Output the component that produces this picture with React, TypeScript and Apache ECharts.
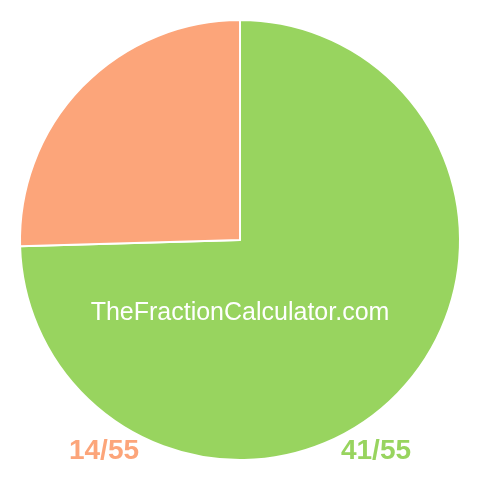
import { useEffect, useRef } from 'react';
import * as echarts from 'echarts';

const sliceNames = ['41/55', '14/55'];
const sliceValues = [41, 14];
const sliceColors = ['#98d45f', '#fca57a'];
const siteName = 'TheFractionCalculator.com';

const App = () => {
  const chartRef = useRef<HTMLDivElement>(null);

  useEffect(() => {
    if (chartRef.current) {
      const myChart = echarts.init(chartRef.current, null, { renderer: 'svg' });

      const option: echarts.EChartsOption = {
        animation: false,
        series: [{
          type: 'pie',
          center: [240, 240],
          radius: [0, 220],
          startAngle: 90,
          clockwise: true,
          z: 1,
          label: { show: false },
          labelLine: { show: false },
          emphasis: { disabled: true },
          itemStyle: { borderColor: '#ffffff', borderWidth: 2 },
          data: sliceValues.map((v, i) => ({
            name: sliceNames[i],
            value: v,
            itemStyle: { color: sliceColors[i] }
          }))
        }],
        graphic: [
          {
            type: 'text', x: 240, y: 311, z: 100,
            style: {
              text: siteName, fill: '#ffffff', font: '25px Arial, "Liberation Sans", sans-serif',
              align: 'center', verticalAlign: 'middle'
            }
          },
          {
            type: 'text', x: 104, y: 449, z: 100,
            style: {
              text: sliceNames[1], fill: sliceColors[1], font: 'bold 28px Arial, "Liberation Sans", sans-serif',
              align: 'center', verticalAlign: 'middle'
            }
          },
          {
            type: 'text', x: 376, y: 449, z: 100,
            style: {
              text: sliceNames[0], fill: sliceColors[0], font: 'bold 28px Arial, "Liberation Sans", sans-serif',
              align: 'center', verticalAlign: 'middle'
            }
          }
        ]
      };

      myChart.setOption(option);

      return () => {
        myChart.dispose();
      };
    }
  }, []);

  return <div ref={chartRef} style={{ position: 'fixed', left: 0, top: 0, width: '480px', height: '480px' }} />;
};

export default App;
